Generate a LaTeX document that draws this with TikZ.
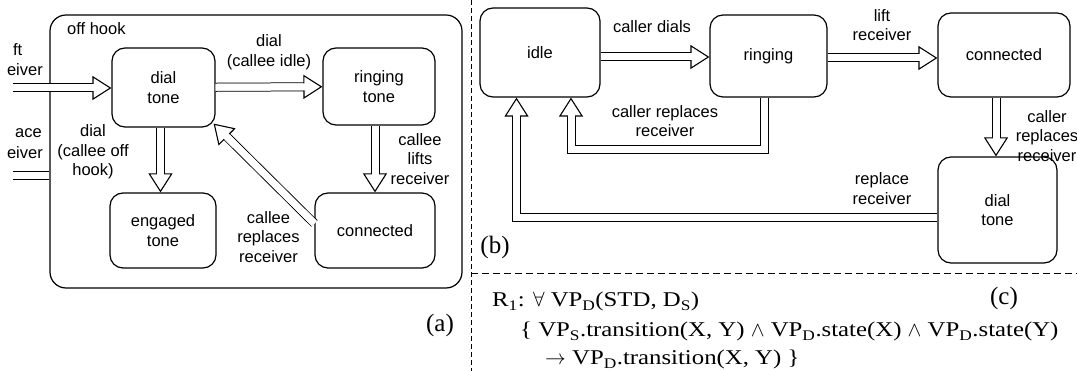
\documentclass[tikz,border=0pt]{standalone}
\usepackage{fontspec}
\setmainfont{Liberation Serif}
\newfontfamily\lblfont{Liberation Sans}
\newfontfamily\rulefont[FakeStretch=1.18]{Liberation Serif}
\usetikzlibrary{arrows.meta, positioning}
\tikzset{
  box/.style={draw, line width=1.2pt, rounded corners=13pt, align=center,
    inner sep=0pt, font=\lblfont\fontsize{16.5}{19.5}\selectfont},
  lbl/.style={align=center, inner sep=0pt, font=\lblfont\fontsize{16.5}{19.5}\selectfont},
  dline/.style={draw=black, double=white, double distance=7pt, line width=1pt, line join=miter},
  dbl/.style={draw=white, line width=0.5pt, line join=miter,
    -{Triangle[length=19pt, width=24pt, fill=white, color=black, line width=1.1pt]},
    preaction={dline, shorten >=17pt, -},
    postaction={draw=white, line width=7pt, shorten >=17.5pt, -}},
  sep/.style={line width=1pt, dash pattern=on 5pt off 3pt},
  tag/.style={inner sep=0pt, font=\fontsize{25}{28}\selectfont},
  rule/.style={anchor=base west, inner sep=0pt, font=\rulefont\fontsize{21}{24}\selectfont},
}

\begin{document}
\begin{tikzpicture}[x=1pt, y=-1pt]
  \useasboundingbox (0,0) rectangle (1077,371);

  % (a)
  \node[box, rounded corners=16pt, minimum width=412pt, minimum height=273pt] (offhook) at (256,151.5) {};
  \node[lbl, anchor=west] (hooktxt) at (67,29) {off hook};
  \node[box, minimum width=103pt, minimum height=79pt] (diala) at (163.5,87.5) {dial\\tone};
  \node[box, minimum width=112pt, minimum height=77pt] (ringa) at (379,86.5) {ringing\\tone};
  \node[box, minimum width=106pt, minimum height=75pt] (enga) at (163,230.5) {engaged\\tone};
  \node[box, minimum width=120pt, minimum height=75pt] (conna) at (375,230.5) {connected};

  \node[lbl, anchor=east] (lift1) at (22.5,50) {ft};
  \node[lbl, anchor=east] (lift2) at (43,70) {eiver};
  \node[lbl, anchor=east] (repl1) at (42,133) {ace};
  \node[lbl, anchor=east] (repl2) at (43,153) {eiver};

  \coordinate (liftin) at (-10,88);
  \coordinate (hangout) at (-40,176);
  \begin{scope}
    \clip (13,0) rectangle (471,371);
    \draw[dbl] (liftin) -- (liftin -| diala.west);
    \draw[dbl] (offhook.west |- hangout) -- (hangout);
  \end{scope}

  \draw[dbl] (diala) -- (ringa);
  \draw[dbl] ([xshift=-3pt]diala.south) -- ([xshift=-3pt]diala.south |- enga.north);
  \draw[dbl] (conna.north |- ringa.south) -- (conna.north);
  \draw[dbl] ([yshift=7pt]conna.west) -- ([xshift=-2pt,yshift=4pt]diala.south east);

  \node[lbl] (idletxt) at (269,52) {dial\\(callee idle)};
  \node[lbl] (offtxt) at (93,152) {dial\\(callee off\\hook)};
  \node[lbl] (liftstxt) at (420,159) {callee\\lifts\\receiver};
  \node[lbl] (repstxt) at (268.5,237) {callee\\replaces\\receiver};
  \node[tag] (ta) at (440,325) {(a)};

  % (b)
  \node[box, minimum width=120pt, minimum height=89pt] (idle) at (540,52.5) {idle};
  \node[box, minimum width=117pt, minimum height=82pt] (ring) at (768.5,56) {ringing};
  \node[box, minimum width=132pt, minimum height=84pt] (connb) at (1004,55) {connected};
  \node[box, minimum width=119pt, minimum height=106pt] (dialb) at (997.5,210) {dial\\tone};

  \coordinate (ringout) at (764,150);
  \coordinate (idlein) at (571,150);
  \draw[dbl] ([yshift=-4.5pt]idle.east) -- ([yshift=-4.5pt]idle.east -| ring.west);
  \draw[dbl] ([yshift=-2pt]ring.east) -- ([yshift=-2pt]ring.east -| connb.west);
  \draw[dbl] (ringout |- ring.south) -- (ringout) -- (idlein) -- (idlein |- idle.south);
  \draw[dbl] ([xshift=-8pt]connb.south) -- ([xshift=-8pt]connb.south |- dialb.north);
  \draw[dbl] ([yshift=-7.5pt]dialb.west) -| ([xshift=-23.5pt]idle.south);

  \node[lbl] (dialstxt) at (652,27) {caller dials};
  \node[lbl] (lrtxt) at (882,25) {lift\\receiver};
  \node[lbl] (crrtxt) at (665,121) {caller replaces\\receiver};
  \node[lbl] (crbtxt) at (1047,136) {caller\\replaces\\receiver};
  \node[lbl] (rrtxt) at (882,188.5) {replace\\receiver};
  \node[tag] (tb) at (495,247) {(b)};

  % (c)
  \coordinate (vtop) at (471,0);
  \coordinate (vbot) at (471,371);
  \coordinate (hend) at (1077,274);
  \draw[sep] (vtop) -- (vbot);
  \draw[sep, dash pattern=on 7pt off 4pt] (vtop |- hend) -- (hend);
  \node[tag] (tc) at (1004,298) {(c)};
  \node[rule] (r1) at (492,307) {R\textsubscript{1}: $\forall$ VP\textsubscript{D}(STD, D\textsubscript{S})};
  \node[rule] (r2) at (520,337) {\{ VP\textsubscript{S}.transition(X, Y) $\wedge$ VP\textsubscript{D}.state(X) $\wedge$ VP\textsubscript{D}.state(Y)};
  \node[rule] (r3) at (545,365) {$\rightarrow$ VP\textsubscript{D}.transition(X, Y) \}};
\end{tikzpicture}
\end{document}
